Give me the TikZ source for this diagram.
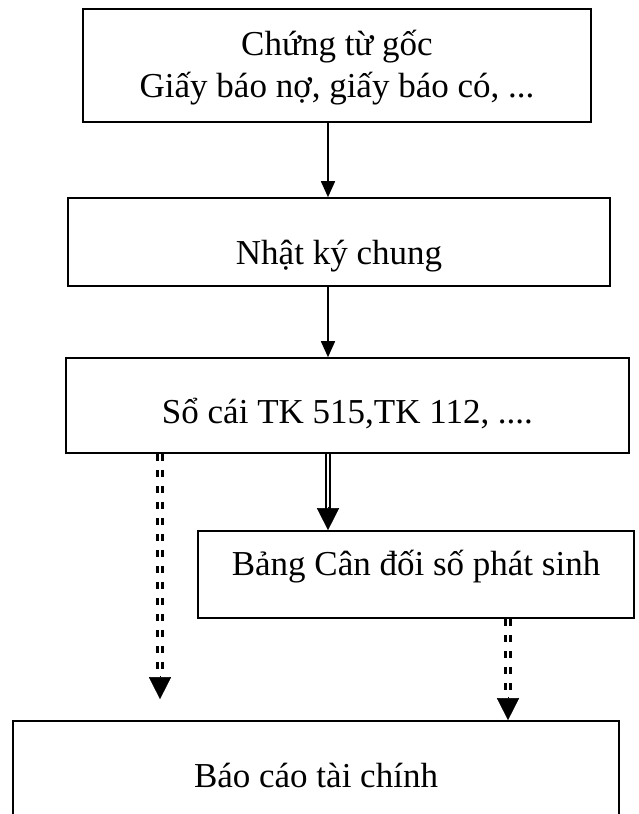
\documentclass[tikz,border=0pt]{standalone}
\usepackage{fontspec}
\setmainfont{Liberation Serif}
\usetikzlibrary{arrows.meta,calc}
\tikzset{
  box/.style={draw, line width=1.6pt, inner sep=0pt, align=center, font=\fontsize{35}{42}\selectfont},
  solidarr/.style={line width=1.6pt, -{Triangle[length=16pt,width=14pt]}},
  dblline/.style={line width=1.8pt, double, double distance=2.6pt},
  dashdbl/.style={line width=2.6pt, double, double distance=2pt, dash pattern=on 7pt off 9pt},
  bighead/.style={line width=0.5pt, -{Triangle[length=22pt,width=22pt]}}
}
\begin{document}
\begin{tikzpicture}[x=1pt, y=-1pt]
  \useasboundingbox (0,0) rectangle (638,814);
  \clip (0,0) rectangle (638,814);
  % boxes
  \node[box, minimum width=508, minimum height=113, text height=71, text depth=8] (goc) at (337,65.5) {Chứng từ gốc\\Giấy báo nợ, giấy báo có, ...};
  \node[box, minimum width=542, minimum height=88, text height=52, text depth=8] (nkc) at (339,242) {Nhật ký chung};
  \node[box, minimum width=563, minimum height=95, text height=43, text depth=8] (socai) at (347.5,405.5) {Sổ cái TK 515,TK 112, ....};
  \node[box, minimum width=436, minimum height=87, text height=17, text depth=16] (bcd) at (416,574.5) {Bảng Cân đối số phát sinh};
  \node[box, minimum width=606, minimum height=139, text height=20, text depth=27] (bctc) at (316,790.5) {Báo cáo tài chính};
  % x positions of the connectors
  \coordinate (xa) at (328,0); \coordinate (xb) at (328,0);
  \coordinate (xl) at (160,0); \coordinate (xr) at (508,0);
  \coordinate (tl) at ($(bctc.north -| xl)+(0,-21)$);
  % connectors
  \draw[solidarr] (goc.south -| xa) -- (nkc.north -| xa);
  \draw[solidarr] (nkc.south -| xa) -- (socai.north -| xa);
  \draw[dblline, shorten >=14pt] (socai.south -| xb) -- (bcd.north -| xb);
  \draw[bighead] ($(bcd.north -| xb)+(0,-23)$) -- (bcd.north -| xb);
  \draw[dashdbl, shorten >=16pt] (socai.south -| xl) -- (tl);
  \draw[bighead] ($(tl)+(0,-23)$) -- (tl);
  \draw[dashdbl, shorten >=16pt] (bcd.south -| xr) -- (bctc.north -| xr);
  \draw[bighead] ($(bctc.north -| xr)+(0,-23)$) -- (bctc.north -| xr);
\end{tikzpicture}
\end{document}
